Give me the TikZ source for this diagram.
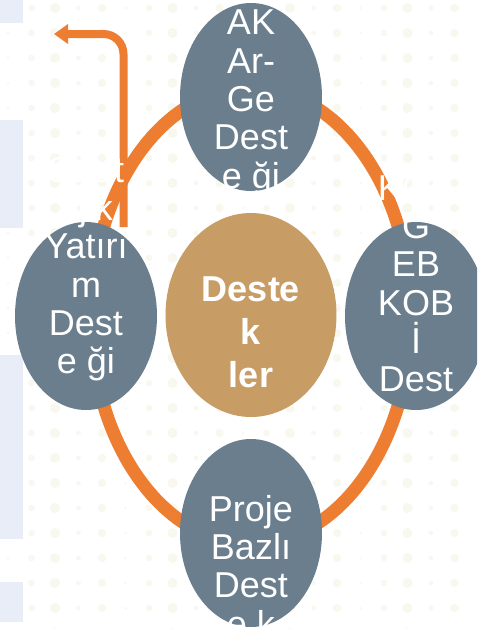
\documentclass[tikz,border=0pt]{standalone}
\usepackage{fontspec}
\setmainfont{Liberation Sans}
\usetikzlibrary{arrows.meta,shapes.geometric}
\definecolor{slate}{RGB}{106,126,141}
\definecolor{sand}{RGB}{199,157,101}
\definecolor{flame}{RGB}{237,125,49}
\definecolor{paleblue}{RGB}{232,237,247}
\definecolor{dotcol}{RGB}{248,248,238}

\begin{document}
\begin{tikzpicture}[x=1pt,y=-1pt]
    \tikzstyle{bubble} = [ellipse, fill=slate, minimum width=142pt, minimum height=188pt, inner sep=0pt];
    \tikzstyle{hub} = [bubble, fill=sand, minimum width=171pt, minimum height=204pt]
    \tikzstyle{caption} = [text=white, align=center, inner sep=0pt, anchor=north, font=\fontsize{36}{38.3}\selectfont]
    \tikzstyle{hubcaption} = [caption, font=\bfseries\fontsize{36}{43}\selectfont]
    \tikzstyle{ring} = [flame, line width=13pt];
    \tikzstyle{flow} = [flame, line width=8pt, rounded corners=20pt, -{Triangle[length=14pt,width=19pt]}];

    \useasboundingbox (0,0) rectangle (477,629);
    \clip (0,0) rectangle (477,629);

    % faint dotted background
    \foreach \i in {0,...,20}
        \foreach \j in {0,...,25}
            \fill[dotcol] ({8+\i*23.5},{8+\j*25}) circle[radius={1.5+mod(\i*7+\j*5,5)*0.9}];

    \fill[paleblue] (0,0) rectangle (23,23);
    \fill[paleblue] (0,120) rectangle (23,228);
    \fill[paleblue] (0,355) rectangle (23,539);
    \fill[paleblue] (0,582) rectangle (23,622);

    % ring and arrow
    \coordinate (hub-centre) at (251,316);
    \draw[ring] (hub-centre) ellipse [x radius=160, y radius=228];

    \coordinate (flow-foot) at (123.5,227);
    \coordinate (flow-tip) at (54,34);
    \draw[flow] (flow-foot) |- (flow-tip);

    \node[bubble] (AKArGe) at (251,97) {};
    \node[bubble] (Yatirim) at (86,316) {};
    \node[bubble] (KOSGEB) at (416,316) {};
    \node[bubble] (Proje) at (251,533) {};
    \node[hub] (Destekler) at (251,315) {};

    \node[caption] (AKArGe-text) at (251,10) {AK\\Ar-\\Ge\\Dest\\e ği};
    \node[caption] (Yatirim-text) at (86,157) {Strat\\ejik\\Yatırı\\m\\Dest\\e ği};
    \node[caption] (KOSGEB-text) at (416,175) {KOS\\G\\EB\\KOB\\İ\\Dest};
    \node[caption] (Proje-text) at (251,495) {Proje\\Bazlı\\Dest\\e k};
    \node[hubcaption] (Destekler-text) at (251,277) {Deste\\k\\ler};

\end{tikzpicture}
\end{document}
